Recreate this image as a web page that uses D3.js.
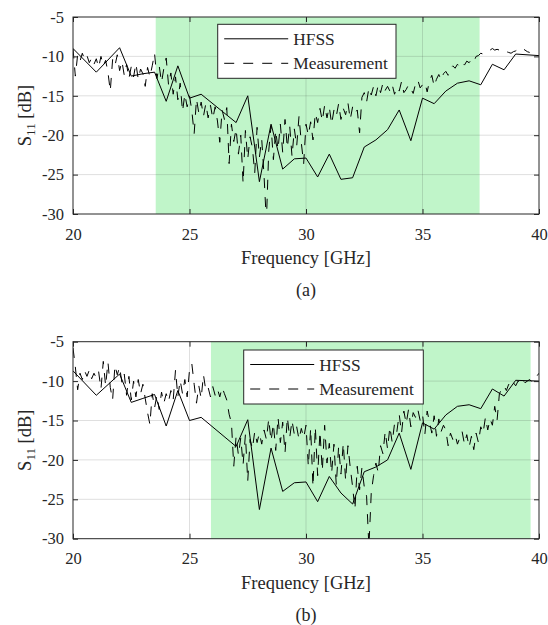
<!DOCTYPE html>
<html>
<head>
<meta charset="utf-8">
<script src="https://cdn.jsdelivr.net/npm/d3@7/dist/d3.min.js"></script>
<style>
body { margin: 0; background: #fff; }
</style>
</head>
<body>
<div id="main"></div>
<script>
// x/y ticks
var xTicks = [20, 25, 30, 35, 40];
var yTicks = [-5, -10, -15, -20, -25, -30];

// HFSS simulation vertices (GHz, dB)
var hfssFreq = [20, 21, 22, 22.5, 23, 23.5, 24, 24.5, 25, 25.5, 27, 27.5, 28, 28.5, 29, 29.5, 30, 30.5,
    31, 31.5, 32, 32.5, 33, 33.5, 34, 34.5, 35, 35.5, 36, 36.5, 37, 37.5, 38, 38.5, 39, 40];
var hfssA = [-9.0, -12.0, -8.9, -12.5, -12.2, -12.0, -15.7, -11.2, -15.3, -14.8, -18.4, -15.0, -25.9, -18.6,
    -24.3, -23.0, -22.9, -25.3, -22.4, -25.6, -25.4, -21.5, -20.6, -19.3, -16.8, -20.7, -15.3, -16.0, -14.4,
    -13.4, -13.1, -13.6, -11.0, -11.7, -9.7, -9.9];
var hfssB = [-8.7, -11.8, -9.1, -12.7, -12.2, -11.7, -15.7, -11.2, -15.0, -14.6, -18.3, -14.9, -26.3, -18.5,
    -24.0, -22.9, -22.8, -25.3, -22.1, -24.2, -25.6, -21.5, -20.9, -20.0, -16.6, -21.2, -15.3, -16.1, -14.3,
    -13.2, -13.0, -13.5, -11.0, -11.9, -9.9, -10.0];

// measured S11, sampled every 0.1 GHz from 20 GHz
var measStart = 20, measStep = 0.1;
var measA = [
    -9.0, -12.5, -9.8, -10.6, -9.6, -10.4, -9.9, -10.8, -10.2, -11.0,
    -10.3, -11.4, -10.0, -11.2, -10.5, -12.0, -14.4, -10.4, -11.2, -9.8,
    -11.8, -10.6, -12.4, -11.0, -12.8, -11.3, -12.6, -10.9, -12.9, -11.6,
    -12.2, -13.8, -11.4, -12.6, -11.2, -9.6, -12.8, -11.2, -13.3, -11.5,
    -10.2, -13.6, -12.1, -14.8, -12.6, -15.5, -13.4, -17.0, -14.8, -16.4,
    -15.0, -16.9, -19.8, -15.4, -17.2, -15.8, -17.6, -16.0, -17.8, -16.2,
    -17.9, -16.4, -18.2, -20.9, -16.8, -18.0, -16.5, -23.6, -18.6, -20.8,
    -19.2, -22.4, -20.0, -26.1, -19.4, -23.0, -20.2, -21.6, -24.8, -19.0,
    -22.8, -20.5, -25.2, -31.0, -22.0, -18.8, -23.1, -19.4, -21.8, -18.6,
    -22.2, -18.0, -21.6, -18.8, -22.7, -19.2, -21.4, -17.6, -21.0, -23.6,
    -18.6, -20.0, -18.3, -20.6, -17.2, -18.4, -16.6, -18.2, -16.2, -17.8,
    -16.4, -18.6, -16.8, -17.6, -16.0, -18.0, -16.6, -17.4, -15.9, -18.0,
    -16.4, -17.2, -16.8, -19.7, -15.2, -14.6, -15.8, -14.0, -14.9, -13.8,
    -15.0, -13.6, -14.6, -13.4, -14.3, -13.8, -14.4, -13.6, -14.8, -13.9,
    -14.4, -13.2, -14.6, -14.2, -13.6, -14.1, -14.7, -13.5, -13.0, -14.0,
    -13.6, -13.3, -14.5, -13.1, -12.4, -13.8, -12.9, -12.3, -13.0, -12.2,
    -11.9, -12.4, -11.6, -11.2, -11.5, -11.0, -11.3, -10.8, -11.1, -10.6,
    -10.8, -10.4, -10.7, -10.0, -9.9, -9.6, -9.7, -9.5, -9.3, -9.2,
    -9.0, -9.2, -9.1, -9.2, -9.3, -9.2, -9.4, -9.5, -9.6, -9.4,
    -9.3, -9.1, -8.9, -9.0, -9.2, -9.4, -9.5];
var measB = [
    -5.8, -8.2, -11.1, -9.0, -9.8, -8.7, -9.4, -8.6, -9.7, -9.0,
    -9.6, -8.8, -11.0, -7.5, -10.6, -7.6, -10.8, -12.4, -8.0, -9.2,
    -8.2, -10.2, -9.1, -11.8, -9.4, -12.4, -10.0, -12.0, -9.8, -11.6,
    -10.4, -12.2, -14.0, -15.5, -11.6, -13.4, -11.8, -13.6, -11.4, -12.8,
    -11.6, -12.6, -11.2, -12.4, -8.6, -12.0, -9.9, -11.6, -9.8, -12.0,
    -8.6, -7.8, -10.4, -12.8, -10.6, -12.2, -9.2, -11.2, -10.8, -12.0,
    -10.7, -11.8, -11.0, -12.0, -10.8, -11.6, -12.4, -14.2, -15.3, -20.8,
    -17.0, -19.4, -17.2, -20.6, -16.8, -22.7, -17.4, -18.6, -16.4, -17.8,
    -16.6, -18.0, -16.2, -17.4, -14.8, -17.6, -15.4, -18.8, -14.6, -17.8,
    -15.2, -19.1, -14.6, -17.2, -15.0, -16.8, -15.8, -17.4, -16.0, -17.2,
    -15.6, -20.8, -16.0, -23.4, -15.8, -22.0, -16.4, -21.4, -15.6, -20.4,
    -17.9, -21.7, -18.0, -23.2, -18.3, -21.8, -17.9, -22.6, -18.2, -21.0,
    -23.4, -26.3, -20.8, -23.8, -21.0, -23.4, -24.6, -31.0, -24.2, -22.0,
    -20.4, -21.6, -18.2, -19.2, -16.4, -18.6, -15.8, -17.8, -15.4, -16.4,
    -14.2, -16.6, -13.8, -15.4, -13.6, -15.8, -14.0, -14.6, -13.6, -15.0,
    -14.2, -16.8, -13.8, -15.2, -16.6, -14.4, -17.0, -14.8, -16.4, -15.6,
    -16.2, -18.2, -16.6, -17.4, -16.8, -18.0, -17.2, -16.4, -18.0, -16.8,
    -18.4, -17.0, -18.7, -16.6, -17.8, -15.8, -16.6, -14.6, -16.2, -14.8,
    -15.6, -13.2, -15.0, -11.6, -11.0, -10.6, -11.2, -10.4, -10.8, -10.2,
    -10.6, -10.0, -10.4, -9.9, -10.2, -10.0, -9.8, -10.1, -9.6, -9.4,
    -9.0];

// shaded bands (GHz)
var bandA = [23.55, 37.45];
var bandB = [25.92, 39.64];

var seriesNames = ['HFSS', 'Measurement'];

var width = 548, height = 625;
var plotLeft = 73, plotRight = 539, plotH = 197;
var serif = '"Liberation Serif", "Times New Roman", Times, serif';
var dash = '10,9';

var panels = [
    {tag: '(a)', top: 17, band: bandA, hfss: hfssA, meas: measA, legX: 217.7, legY: 24.3, legW: 178.3},
    {tag: '(b)', top: 341.7, band: bandB, hfss: hfssB, meas: measB, legX: 243.7, legY: 350, legW: 179.6}
];

var svg = d3.select('#main').append('svg')
    .attr('width', width)
    .attr('height', height)
    .style('display', 'block');

var x = d3.scaleLinear().domain([20, 40]).range([plotLeft, plotRight]);

panels.forEach(function(p, pi) {
    var y = d3.scaleLinear().domain([-30, -5]).range([p.top + plotH, p.top]);
    var g = svg.append('g');

    var clipId = 'clip' + pi;
    g.append('clipPath').attr('id', clipId)
        .append('rect')
        .attr('x', plotLeft).attr('y', p.top)
        .attr('width', plotRight - plotLeft).attr('height', plotH);

    // band
    g.append('rect')
        .attr('x', x(p.band[0]))
        .attr('y', p.top)
        .attr('width', x(p.band[1]) - x(p.band[0]))
        .attr('height', plotH)
        .attr('fill', '#c0f5c9');

    // grid
    g.append('g').selectAll('line')
        .data(xTicks.slice(1, -1)).enter().append('line')
        .attr('x1', d => x(d)).attr('x2', d => x(d))
        .attr('y1', p.top).attr('y2', p.top + plotH)
        .attr('stroke', '#262626').attr('stroke-opacity', 0.15);
    g.append('g').selectAll('line')
        .data(yTicks.slice(1, -1)).enter().append('line')
        .attr('y1', d => y(d)).attr('y2', d => y(d))
        .attr('x1', plotLeft).attr('x2', plotRight)
        .attr('stroke', '#262626').attr('stroke-opacity', 0.15);

    var data = g.append('g').attr('clip-path', 'url(#' + clipId + ')');

    var line = d3.line().x(d => x(d[0])).y(d => y(d[1]));

    var measPts = p.meas.map((v, i) => [measStart + i * measStep, v]);
    data.append('path')
        .datum(measPts)
        .attr('d', line)
        .attr('fill', 'none')
        .attr('stroke', '#000')
        .attr('stroke-width', 1)
        .attr('stroke-dasharray', dash);

    var hfssPts = hfssFreq.map((f, i) => [f, p.hfss[i]]);
    data.append('path')
        .datum(hfssPts)
        .attr('d', line)
        .attr('fill', 'none')
        .attr('stroke', '#000')
        .attr('stroke-width', 1);

    // axes, ticks pointing inward
    var fmt = d => String(d);
    g.append('g')
        .attr('transform', 'translate(0,' + (p.top + plotH) + ')')
        .call(d3.axisBottom(x).tickValues(xTicks).tickSize(-5).tickPadding(14).tickFormat(fmt));
    g.append('g')
        .attr('transform', 'translate(0,' + p.top + ')')
        .call(d3.axisTop(x).tickValues(xTicks).tickSize(-5).tickFormat(''));
    g.append('g')
        .attr('transform', 'translate(' + plotLeft + ',0)')
        .call(d3.axisLeft(y).tickValues(yTicks).tickSize(-5).tickPadding(9).tickFormat(fmt));
    g.append('g')
        .attr('transform', 'translate(' + plotRight + ',0)')
        .call(d3.axisRight(y).tickValues(yTicks).tickSize(-5).tickFormat(''));

    g.selectAll('.domain').remove();
    g.selectAll('.tick line').attr('stroke', '#262626');
    g.selectAll('.tick text')
        .style('font-size', '16.5px')
        .attr('fill', '#262626');

    g.append('rect')
        .attr('x', plotLeft).attr('y', p.top)
        .attr('width', plotRight - plotLeft).attr('height', plotH)
        .attr('fill', 'none')
        .attr('stroke', '#262626')
        .attr('stroke-width', 1);

    // labels
    g.append('text')
        .attr('x', (plotLeft + plotRight) / 2)
        .attr('y', p.top + plotH + 50)
        .attr('text-anchor', 'middle')
        .style('font-size', '18.5px')
        .text('Frequency [GHz]');

    var yl = g.append('text')
        .attr('transform', 'translate(31,' + (p.top + plotH / 2) + ') rotate(-90)')
        .attr('text-anchor', 'middle')
        .style('font-size', '18.5px');
    yl.append('tspan').text('S');
    yl.append('tspan').attr('dy', 4).style('font-size', '13px').text('11');
    yl.append('tspan').attr('dy', -4).text('\u00a0[dB]');

    g.append('text')
        .attr('x', (plotLeft + plotRight) / 2)
        .attr('y', p.top + plotH + 82)
        .attr('text-anchor', 'middle')
        .style('font-size', '18px')
        .text(p.tag);

    // legend
    var leg = g.append('g').attr('transform', 'translate(' + p.legX + ',' + p.legY + ')');
    leg.append('rect')
        .attr('width', p.legW).attr('height', 54)
        .attr('fill', '#fff')
        .attr('stroke', '#262626')
        .attr('stroke-width', 1);
    seriesNames.forEach(function(name, i) {
        var ly = 14.5 + i * 24.5;
        leg.append('line')
            .attr('x1', 6.5).attr('x2', 70.5)
            .attr('y1', ly).attr('y2', ly)
            .attr('stroke', '#000')
            .attr('stroke-width', 1)
            .attr('stroke-dasharray', i === 1 ? dash : null);
        leg.append('text')
            .attr('x', 75.5)
            .attr('y', ly)
            .attr('dy', '0.35em')
            .style('font-size', '17.4px')
            .text(name);
    });

    g.selectAll('text')
        .style('font-family', serif)
        .attr('fill', '#262626');
});
</script>
</body>
</html>
